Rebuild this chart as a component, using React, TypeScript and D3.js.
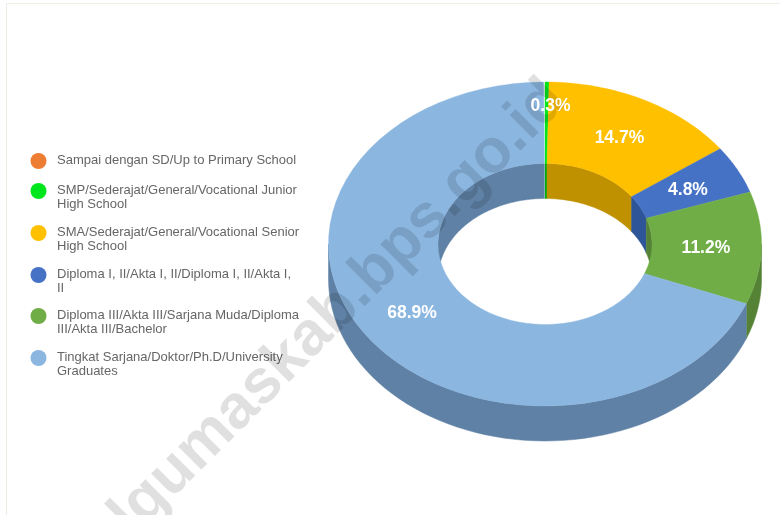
import React from "react";
import * as d3 from "d3";

const categories = [
  ["Sampai dengan SD/Up to Primary School"],
  ["SMP/Sederajat/General/Vocational Junior", "High School"],
  ["SMA/Sederajat/General/Vocational Senior", "High School"],
  ["Diploma I, II/Akta I, II/Diploma I, II/Akta I,", "II"],
  ["Diploma III/Akta III/Sarjana Muda/Diploma", "III/Akta III/Bachelor"],
  ["Tingkat Sarjana/Doktor/Ph.D/University", "Graduates"],
];
const values = [0, 0.3, 14.7, 4.8, 11.2, 68.9];
const topColors = ["#ED7D31", "#00E61E", "#FFC000", "#4472C4", "#70AD47", "#8AB6E0"];
const sideColors = ["#B25E25", "#00AC17", "#BF9000", "#2F5597", "#548235", "#5F81A5"];
const labelNudge = [[0, 0], [4, -18], [0, 0], [0, 0], [0, 0], [0, 0]];
const legendY = [161, 191, 233, 275, 316, 358];

const cx = 545, cy = 244;
const rx = 216.5, ry = 162, irx = 107, iry = 80.5, depth = 35;
const TAU = Math.PI * 2;

const pt = (a: number, x: number, y: number, dy = 0): [number, number] => [
  cx + x * Math.sin(a),
  cy - y * Math.cos(a) + dy,
];
const arcPts = (a0: number, a1: number, x: number, y: number, dy = 0) =>
  d3.range(0, 61).map((i) => pt(a0 + ((a1 - a0) * i) / 60, x, y, dy));
const line = d3.line();

const sweep = d3.scaleLinear().domain([0, 100]).range([0, TAU]);
const slices = d3
  .pie<number>()
  .sort(null)
  .value((d) => d)
  .startAngle(0)
  .endAngle(sweep(d3.sum(values)))(values);

function clip(a0: number, a1: number, lo: number, hi: number) {
  const s = Math.max(a0, lo), e = Math.min(a1, hi);
  return e > s ? [s, e] : null;
}

export default function App() {
  const outer: React.ReactNode[] = [];
  const inner: React.ReactNode[] = [];
  slices.forEach((s, i) => {
    const o = clip(s.startAngle, s.endAngle, Math.PI / 2, (Math.PI * 3) / 2);
    if (o) {
      const d = line([...arcPts(o[0], o[1], rx, ry), ...arcPts(o[1], o[0], rx, ry, depth)]) + "Z";
      outer.push(<path key={i} d={d} fill={sideColors[i]} stroke={sideColors[i]} strokeWidth={0.5} />);
    }
    [clip(s.startAngle, s.endAngle, 0, Math.PI / 2), clip(s.startAngle, s.endAngle, (Math.PI * 3) / 2, TAU)].forEach((w, j) => {
      if (w) {
        const d = line([...arcPts(w[0], w[1], irx, iry), ...arcPts(w[1], w[0], irx, iry, depth)]) + "Z";
        inner.push(<path key={`${i}-${j}`} d={d} fill={sideColors[i]} stroke={sideColors[i]} strokeWidth={0.5} />);
      }
    });
  });
  return (
    <svg
      width={780}
      height={515}
      style={{ position: "absolute", left: 0, top: 0, background: "#fff" }}
      fontFamily="'Liberation Sans', Arial, sans-serif"
    >
      <defs>
        <filter id="soft" x="-5%" y="-5%" width="110%" height="110%">
          <feGaussianBlur stdDeviation="0.55" />
        </filter>
      </defs>
      <path d="M6.5 515V3.5H780" fill="none" stroke="#EDEDE6" strokeWidth={1} />
      <g filter="url(#soft)">
        <g>
          {outer}
          {inner}
          {slices.map((s, i) =>
            s.endAngle > s.startAngle ? (
              <path
                key={i}
                d={
                  line([
                    ...arcPts(s.startAngle, s.endAngle, rx, ry),
                    ...arcPts(s.endAngle, s.startAngle, irx, iry),
                  ]) + "Z"
                }
                fill={topColors[i]}
                stroke={topColors[i]}
                strokeWidth={0.4}
              />
            ) : null
          )}
        </g>
        <g>
          {categories.map((lines, i) => (
            <g key={i}>
              <circle cx={38.5} cy={legendY[i]} r={8} fill={topColors[i]} />
              <text x={57} y={legendY[i] + 3} fontSize={13} fill="#666">
                {lines.map((t, k) => (
                  <tspan key={k} x={57} dy={k ? 14 : 0}>
                    {t}
                  </tspan>
                ))}
              </text>
            </g>
          ))}
        </g>
        <text
          transform="translate(118,553) rotate(-45)"
          fontSize={62}
          fontWeight={700}
          fill="#000"
          fillOpacity={0.12}
        >
          dgumaskab.bps.go.id
        </text>
        <g fontSize={17.5} fontWeight={700} fill="#fff" textAnchor="middle">
          {slices.map((s, i) => {
            if (!s.value) return null;
            const mid = (s.startAngle + s.endAngle) / 2;
            const [x, y] = pt(mid, 161, 121);
            return (
              <text key={i} x={x + labelNudge[i][0]} y={y + labelNudge[i][1]} dy="0.35em">
                {s.value.toFixed(1)}%
              </text>
            );
          })}
        </g>
      </g>
    </svg>
  );
}
